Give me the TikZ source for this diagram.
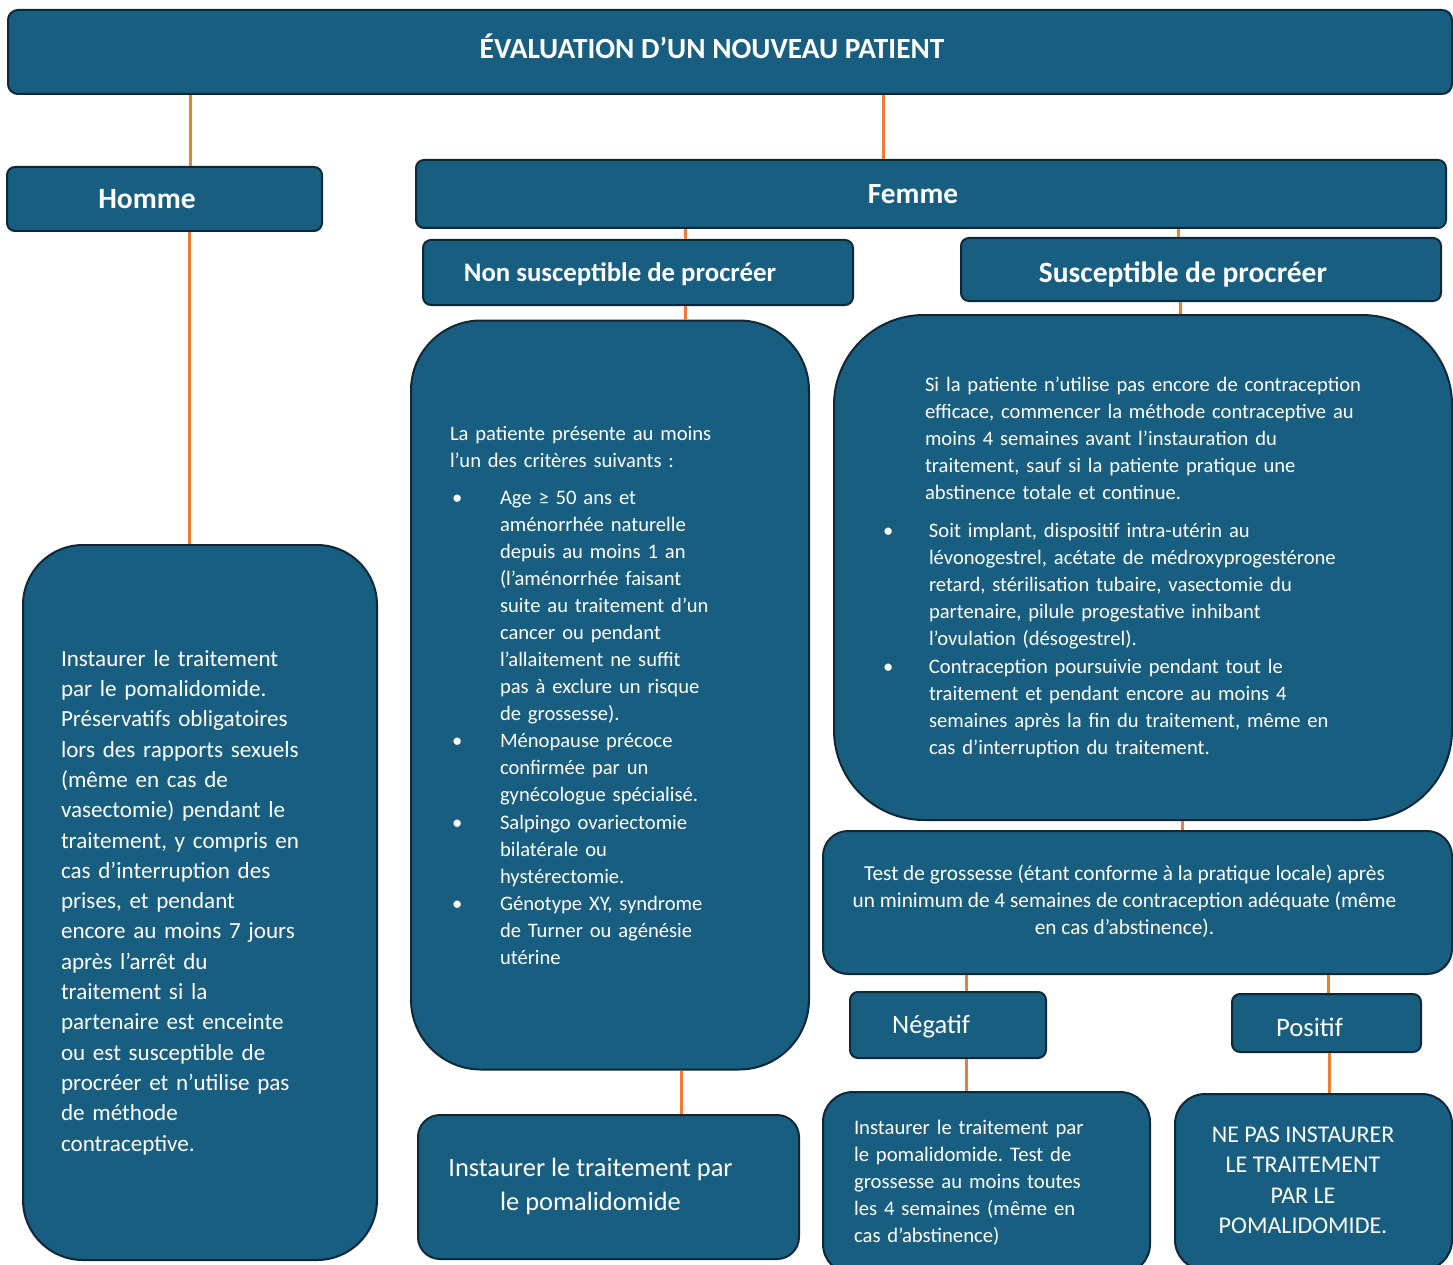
\documentclass[tikz,border=0pt]{standalone}
\usepackage{fontspec}
\setmainfont{Carlito}
\frenchspacing
\usetikzlibrary{positioning}
\definecolor{bleu}{RGB}{24,94,128}
\definecolor{contour}{RGB}{14,40,56}
\definecolor{trait}{RGB}{237,125,49}
\newcommand\puce[1]{\makebox[#1][l]{\hspace{2pt}•}}
\newcommand\retrait[1]{\hspace*{#1}}
\newcommand\decal[1]{\hspace*{#1}}
\tikzset{%
boite/.style args={#1#2#3}{draw=contour,line width=2pt,fill=bleu,text=white,
  rounded corners=#3pt,minimum width=#1pt,minimum height=#2pt,inner sep=0pt},
etiquette/.style={text height=#1pt,text depth=0pt},
lien/.style={draw=trait,line width=3pt},
}

\begin{document}
\begin{tikzpicture}[x=1pt,y=-1pt]
    \useasboundingbox (0,0) rectangle (1453,1265);
    \clip (0,0) rectangle (1453,1265);
    % titres
    \node[boite={1444}{84}{10},etiquette=13,font=\bfseries\fontsize{29.3}{34}\selectfont] (titre) at (730,52) {ÉVALUATION D’UN NOUVEAU PATIENT\decal{36pt}};
    \node[boite={315}{64}{8},etiquette=20,font=\bfseries\fontsize{29.5}{34}\selectfont] (homme) at (164.5,199) {Homme\decal{35pt}};
    \node[boite={1030}{68}{8},etiquette=20,font=\bfseries\fontsize{29.3}{34}\selectfont] (femme) at (931,194) {Femme\decal{36pt}};
    \node[boite={430}{65}{8},etiquette=17.3,font=\bfseries\fontsize{26.8}{32}\selectfont] (nonsusc) at (638,272.5) {Non susceptible de procréer\decal{36pt}};
    \node[boite={480}{63}{8},etiquette=26,font=\bfseries\fontsize{29.5}{34}\selectfont] (susc) at (1201,269.5) {Susceptible de procréer\decal{36pt}};
    % blocs de texte
    \node[boite={354}{715}{60},text width=278pt,align=left,font=\fontsize{23.1}{30.3}\selectfont] (hommebloc) at (200,902.5) {Instaurer le traitement\\
      par le pomalidomide.\\
      Préservatifs obligatoires\\
      lors des rapports sexuels\\
      (même en cas de\\
      vasectomie) pendant le\\
      traitement, y compris en\\
      cas d’interruption des\\
      prises, et pendant\\
      encore au moins 7 jours\\
      après l’arrêt du\\
      traitement si la\\
      partenaire est enceinte\\
      ou est susceptible de\\
      procréer et n’utilise pas\\
      de méthode\\
      contraceptive.};
    \node[boite={398}{749}{70},text width=320pt,align=left,font=\fontsize{20.6}{27}\selectfont] (nonsuscbloc) at (610,695) {La patiente présente au moins\\
      l’un des critères suivants :\\[10pt]
      \puce{50pt}Age ≥ 50 ans et\\
      \retrait{50pt}aménorrhée naturelle\\
      \retrait{50pt}depuis au moins 1 an\\
      \retrait{50pt}(l’aménorrhée faisant\\
      \retrait{50pt}suite au traitement d’un\\
      \retrait{50pt}cancer ou pendant\\
      \retrait{50pt}l’allaitement ne suffit\\
      \retrait{50pt}pas à exclure un risque\\
      \retrait{50pt}de grossesse).\\
      \puce{50pt}Ménopause précoce\\
      \retrait{50pt}confirmée par un\\
      \retrait{50pt}gynécologue spécialisé.\\[1pt]
      \puce{50pt}Salpingo ovariectomie\\
      \retrait{50pt}bilatérale ou\\
      \retrait{50pt}hystérectomie.\\
      \puce{50pt}Génotype XY, syndrome\\
      \retrait{50pt}de Turner ou agénésie\\
      \retrait{50pt}utérine};
    \node[boite={618}{505}{90},text width=524pt,align=left,font=\fontsize{20.6}{27}\selectfont] (suscbloc) at (1143,567.5) {\retrait{44pt}Si la patiente n’utilise pas encore de contraception\\
      \retrait{44pt}efficace, commencer la méthode contraceptive au\\
      \retrait{44pt}moins 4 semaines avant l’instauration du\\
      \retrait{44pt}traitement, sauf si la patiente pratique une\\
      \retrait{44pt}abstinence totale et continue.\\[11pt]
      \puce{48pt}Soit implant, dispositif intra-utérin au\\
      \retrait{48pt}lévonogestrel, acétate de médroxyprogestérone\\
      \retrait{48pt}retard, stérilisation tubaire, vasectomie du\\
      \retrait{48pt}partenaire, pilule progestative inhibant\\
      \retrait{48pt}l’ovulation (désogestrel).\\[1pt]
      \puce{48pt}Contraception poursuivie pendant tout le\\
      \retrait{48pt}traitement et pendant encore au moins 4\\
      \retrait{48pt}semaines après la fin du traitement, même en\\
      \retrait{48pt}cas d’interruption du traitement.};
    \node[boite={629}{143}{25},font=\fontsize{21.3}{27}\selectfont] (test) at (1137.5,902.5) {\begin{tabular}{@{}c@{}}Test de grossesse (étant conforme à la pratique locale) après\\
      un minimum de 4 semaines de contraception adéquate (même\\
      en cas d’abstinence).\end{tabular}\decal{26pt}};
    \node[boite={196}{66}{8},etiquette=17,font=\fontsize{26.5}{30}\selectfont] (negatif) at (948,1025) {Négatif\decal{34pt}};
    \node[boite={189}{58}{8},etiquette=26,font=\fontsize{26.7}{30}\selectfont] (positif) at (1326.5,1023) {Positif\decal{34pt}};
    % conclusions
    \node[boite={381}{144}{22},font=\fontsize{26.4}{34}\selectfont] (instaurer) at (608.5,1187) {\begin{tabular}{@{}c@{}}Instaurer le traitement par\\
      le pomalidomide\end{tabular}\decal{36pt}};
    \node[boite={327}{182}{30},text width=265pt,align=left,font=\fontsize{20.7}{27}\selectfont] (negbloc) at (986.5,1183) {Instaurer le traitement par\\
      le pomalidomide. Test de\\
      grossesse au moins toutes\\
      les 4 semaines (même en\\
      cas d’abstinence)};
    \node[boite={277}{176}{30},font=\fontsize{24}{30.3}\selectfont] (posbloc) at (1313.5,1182) {\begin{tabular}{@{}c@{}}NE PAS INSTAURER\\
      LE TRAITEMENT\\
      PAR LE\\
      POMALIDOMIDE.\end{tabular}\decal{21pt}};
    % liens
    \draw[lien] (titre.south -| 190,0) -- (homme.north -| 190,0);
    \draw[lien] (homme.south -| 189,0) -- (hommebloc.north -| 189,0);
    \draw[lien] (titre.south -| 883,0) -- (femme.north -| 883,0);
    \draw[lien] (femme.south -| 685,0) -- (nonsusc.north -| 685,0);
    \draw[lien] (femme.south -| 1178,0) -- (susc.north -| 1178,0);
    \draw[lien] (nonsusc.south -| 685,0) -- (nonsuscbloc.north -| 685,0);
    \draw[lien] (susc.south -| 1180,0) -- (suscbloc.north -| 1180,0);
    \draw[lien] (suscbloc.south -| 1182,0) -- (test.north -| 1182,0);
    \draw[lien] (nonsuscbloc.south -| 681,0) -- (instaurer.north -| 681,0);
    \draw[lien] (test.south -| 966,0) -- (negatif.north -| 966,0);
    \draw[lien] (test.south -| 1328,0) -- (positif.north -| 1328,0);
    \draw[lien] (negatif.south -| 966,0) -- (negbloc.north -| 966,0);
    \draw[lien] (positif.south -| 1329,0) -- (posbloc.north -| 1329,0);
\end{tikzpicture}
\end{document}
